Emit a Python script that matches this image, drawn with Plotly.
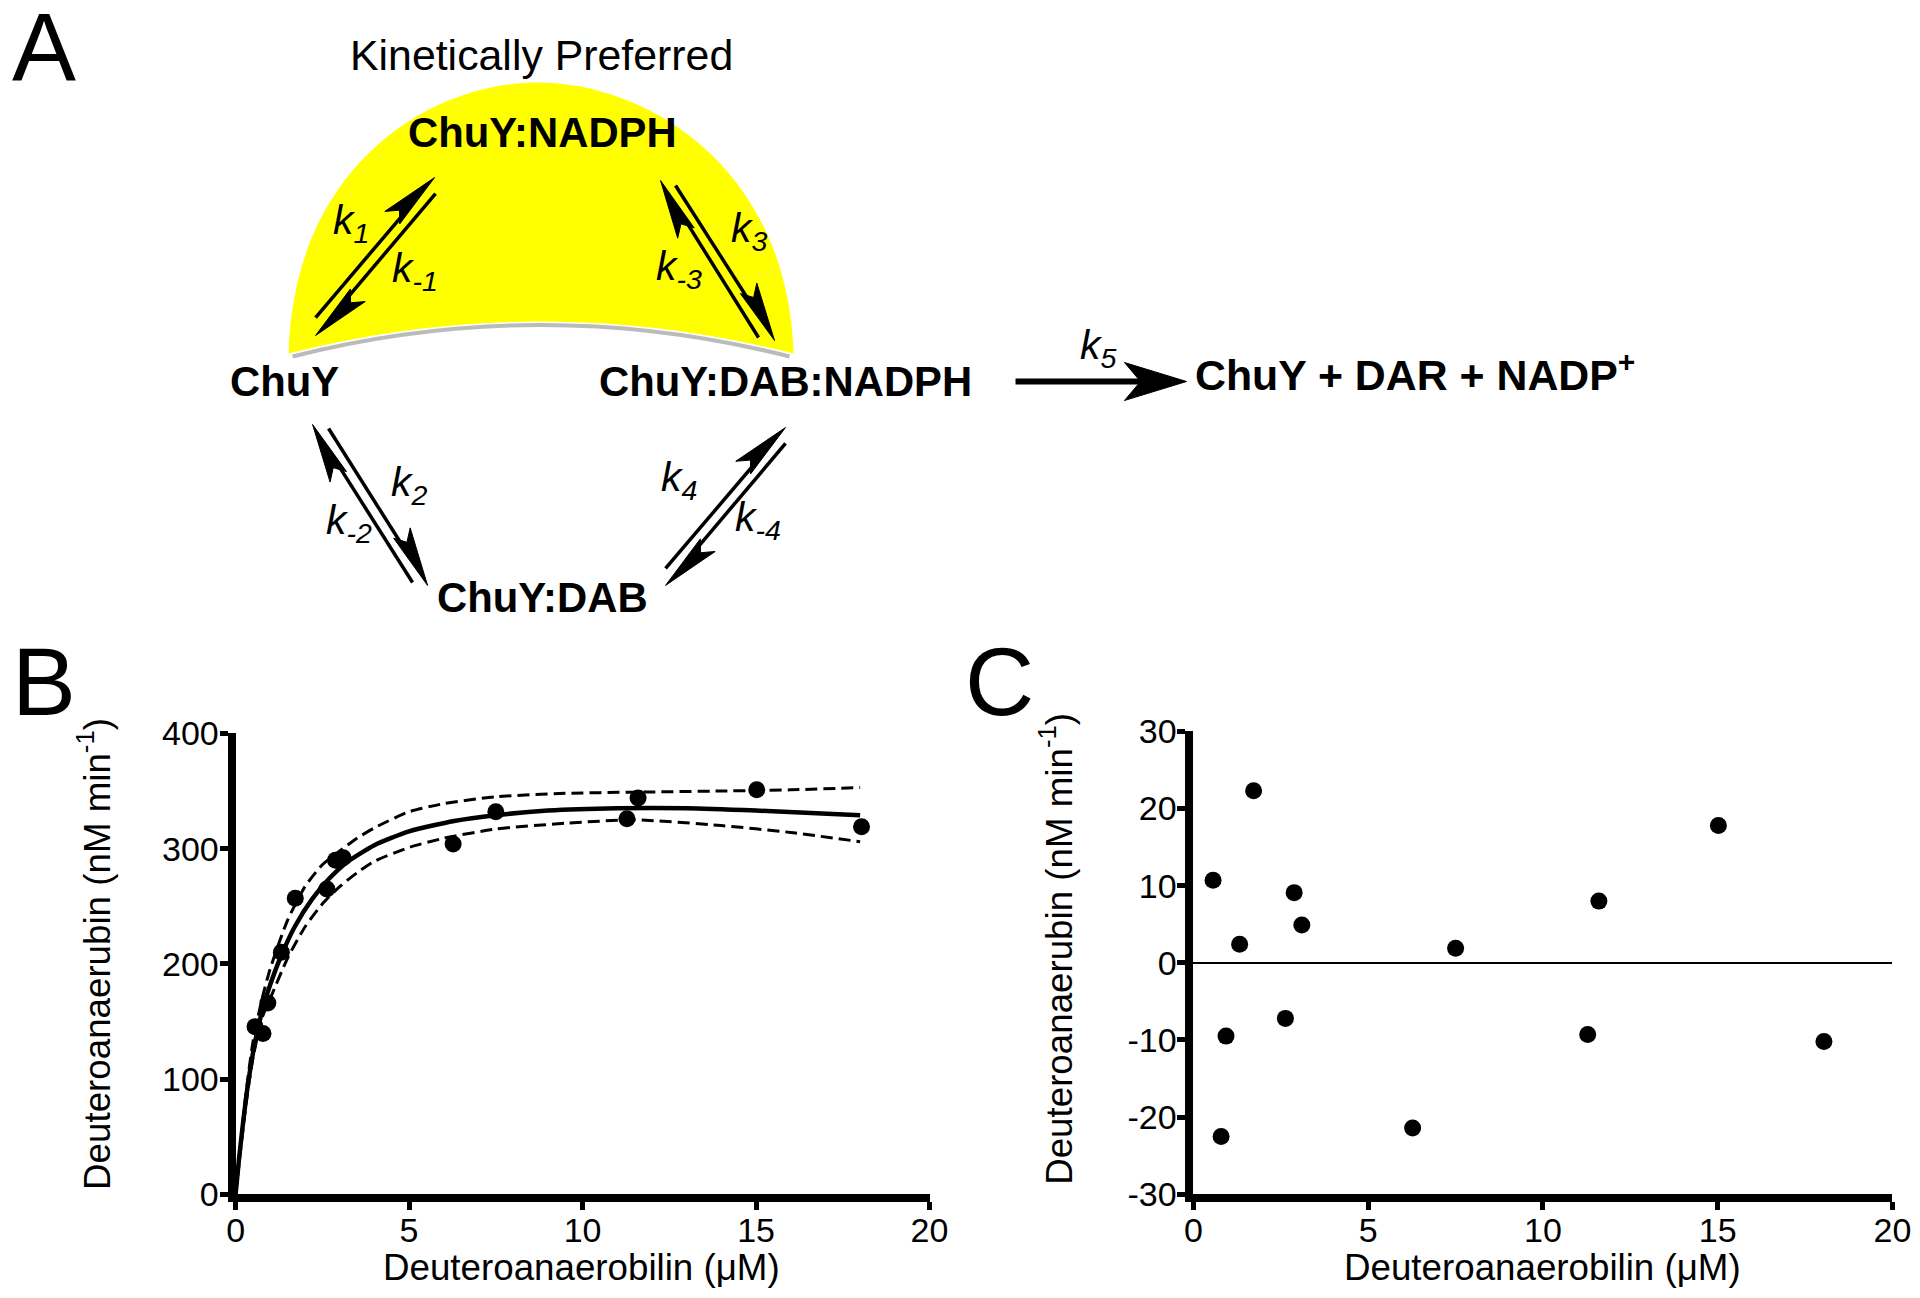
import plotly.graph_objects as go
import math

# ---------------- data ----------------
dab_conc = [0.56, 0.79, 0.93, 1.32, 1.72, 2.63, 2.88, 3.10, 6.27, 7.50, 11.28, 11.60, 15.02, 18.04]
rate_obs = [145.5, 139.5, 166, 210, 257, 265, 290, 292, 304, 332, 326, 344, 351, 319]
residuals = [10.7, -22.5, -9.5, 2.4, 22.3, -7.2, 9.1, 4.9, -21.4, 1.9, -9.3, 8.0, 17.8, -10.2]

fit_x = [0, 0.1, 0.2, 0.35, 0.56, 0.8, 1.0, 1.3, 1.7, 2.2, 2.7, 3.2, 4.0, 5.0, 6.3, 7.5, 9.0, 11.0, 13.0, 15.0, 18.0]
fit_y = [0, 31, 58, 94, 132, 163, 182, 206, 232, 256, 274, 288, 303, 315, 324, 329, 333, 335, 335, 333, 329]

band_x = [0, 0.3, 0.5, 0.75, 1.0, 1.5, 2.0, 2.5, 3.0, 3.5, 4.0, 5.0, 6.0, 7.5, 9.5, 11.5, 14.0, 16.0, 18.0]
band_upper = [0, 88, 132, 168, 196, 238, 267, 286, 298, 309, 318, 332, 339, 345, 348, 349, 350, 351, 353]
band_lower = [0, 78, 118, 152, 170, 205, 232, 252, 267, 279, 289, 301, 309, 317, 322, 325, 320, 314, 306]

x_ticks = [0, 5, 10, 15, 20]
b_y_ticks = [0, 100, 200, 300, 400]
c_y_ticks = [-30, -20, -10, 0, 10, 20, 30]
c_y_ticktext = ["-30", "-20", "-10", "0", "10", "20", "30"]

x_title = "Deuteroanaerobilin (μM)"
y_title = "Deuteroanaerubin (nM min<sup>-1</sup>)"

# ---------------- helpers ----------------
W, H = 1920, 1298
FONT = "Arial, Liberation Sans, Helvetica, sans-serif"
# calibration of the rendered page (measured offset / scale)
SX, OX = 0.9855, 8.4
SY, OY = 0.971, 18.4
FS = 1.02


def X(p):
    return ((p - OX) / SX) / W


def Y(p):
    return 1 - ((p - OY) / SY) / H


fig = go.Figure()

line_dash = "12px,6px"
fig.add_trace(go.Scatter(x=band_x, y=band_upper, mode="lines", xaxis="x", yaxis="y",
                         line=dict(color="black", width=3, dash=line_dash, shape="spline", smoothing=0.6),
                         showlegend=False, hoverinfo="skip"))
fig.add_trace(go.Scatter(x=band_x, y=band_lower, mode="lines", xaxis="x", yaxis="y",
                         line=dict(color="black", width=3, dash=line_dash, shape="spline", smoothing=0.6),
                         showlegend=False, hoverinfo="skip"))
fig.add_trace(go.Scatter(x=fit_x, y=fit_y, mode="lines", xaxis="x", yaxis="y",
                         line=dict(color="black", width=4.5, shape="spline", smoothing=0.6),
                         showlegend=False, hoverinfo="skip"))
fig.add_trace(go.Scatter(x=dab_conc, y=rate_obs, mode="markers", xaxis="x", yaxis="y",
                         marker=dict(color="black", size=17), showlegend=False, cliponaxis=False))
fig.add_trace(go.Scatter(x=dab_conc, y=residuals, mode="markers", xaxis="x2", yaxis="y2",
                         marker=dict(color="black", size=17), showlegend=False, cliponaxis=False))

axis_common = dict(showline=True, linecolor="black", linewidth=8, ticks="outside", ticklen=8,
                   tickwidth=5, tickcolor="black", showgrid=False,
                   tickfont=dict(family=FONT, size=34, color="black"), fixedrange=True)

fig.update_layout(
    width=W, height=H, margin=dict(l=0, r=0, t=0, b=0),
    paper_bgcolor="white", plot_bgcolor="rgba(0,0,0,0)",
    font=dict(family=FONT, color="black"),
    xaxis=dict(domain=[X(235), X(929)], range=[0, 20], anchor="y", tickvals=x_ticks,
               zeroline=False, ticklabelstandoff=-9, **axis_common),
    yaxis=dict(domain=[Y(1194), Y(733)], range=[0, 400], anchor="x", tickvals=b_y_ticks,
               zeroline=False, ticklabelstandoff=-6, **axis_common),
    xaxis2=dict(domain=[X(1193), X(1892)], range=[0, 20], anchor="y2", tickvals=x_ticks,
                zeroline=False, ticklabelstandoff=-9, **axis_common),
    yaxis2=dict(domain=[Y(1194), Y(731)], range=[-30, 30], anchor="x2", tickvals=c_y_ticks,
                ticktext=c_y_ticktext, zeroline=True, zerolinecolor="black", zerolinewidth=2,
                ticklabelstandoff=-6, **axis_common),
)

annotations = []


def txt(x, y, s, size, bold=False, angle=0, xanchor="center"):
    if bold:
        s = "<b>" + s + "</b>"
    annotations.append(dict(x=X(x), y=Y(y), xref="paper", yref="paper", text=s, showarrow=False,
                            xanchor=xanchor, yanchor="middle", textangle=angle,
                            font=dict(family=FONT, size=size * FS, color="black")))


# panel letters
txt(43, 46, "A", 94)
txt(43, 681, "B", 94)
txt(999, 681, "C", 94)

# axis titles
txt(581, 1267, x_title, 36)
txt(1542, 1267, x_title, 36)
txt(94, 954, y_title, 36, angle=-90)
txt(1056, 949, y_title, 36, angle=-90)

# scheme text
txt(541, 54, "Kinetically Preferred", 42)
txt(542, 132, "ChuY:NADPH", 41, bold=True)
txt(284, 381, "ChuY", 41, bold=True)
txt(785, 381, "ChuY:DAB:NADPH", 41, bold=True)
txt(542, 597, "ChuY:DAB", 41, bold=True)
txt(1193, 372, "ChuY + DAR + NADP<sup>+</sup>", 42, bold=True, xanchor="left")

k_labels = [
    ("1", 350, 222), ("-1", 414, 270), ("3", 748, 230), ("-3", 678, 268),
    ("2", 408, 485), ("-2", 348, 523), ("4", 678, 480), ("-4", 757, 520), ("5", 1097, 347),
]
for sub, kx, ky in k_labels:
    txt(kx, ky, "<i>k</i><sub><i>" + sub + "</i></sub>", 40)

fig.update_layout(annotations=annotations)

# ---------------- scheme shapes ----------------
shapes = []


def P(pts, close=True):
    s = "M " + " L ".join("%.5f,%.5f" % (X(a), Y(b)) for a, b in pts)
    return s + (" Z" if close else "")


# shadow under dome
shapes.append(dict(type="path", xref="paper", yref="paper",
                   path="M %.5f,%.5f Q %.5f,%.5f %.5f,%.5f" % (X(292), Y(356), X(540), Y(293), X(789), Y(356)),
                   line=dict(color="rgba(120,120,120,0.5)", width=4)))
# yellow dome
dome = ("M %.5f,%.5f C %.5f,%.5f %.5f,%.5f %.5f,%.5f C %.5f,%.5f %.5f,%.5f %.5f,%.5f Q %.5f,%.5f %.5f,%.5f Z" % (
    X(288), Y(353), X(293), Y(165), X(430), Y(82), X(537), Y(82),
    X(645), Y(82), X(787), Y(165), X(793), Y(353),
    X(540), Y(289), X(288), Y(353)))
shapes.append(dict(type="path", xref="paper", yref="paper", path=dome,
                   fillcolor="#FFFF00", line=dict(width=0)))

arrow_pairs = [
    (((315, 317), (434, 177)), ((435, 193), (315, 335))),
    (((758, 337), (660, 180)), ((675, 185), (774, 340))),
    (((412, 582), (312, 424)), ((328, 428), (427, 585))),
    (((665, 568), (785, 427)), ((785, 443), (665, 585))),
]


def harpoon(tail, tip, other_mid, L=58, w=16):
    dx, dy = tip[0] - tail[0], tip[1] - tail[1]
    n = math.hypot(dx, dy)
    d = (dx / n, dy / n)
    perp = (-d[1], d[0])
    mid = ((tail[0] + tip[0]) / 2, (tail[1] + tip[1]) / 2)
    v = (mid[0] - other_mid[0], mid[1] - other_mid[1])
    if perp[0] * v[0] + perp[1] * v[1] < 0:
        perp = (-perp[0], -perp[1])
    end = (tip[0] - 0.6 * L * d[0], tip[1] - 0.6 * L * d[1])
    shapes.append(dict(type="line", xref="paper", yref="paper", x0=X(tail[0]), y0=Y(tail[1]),
                       x1=X(end[0]), y1=Y(end[1]), line=dict(color="black", width=3.5)))
    barb = (tip[0] - L * d[0] + w * perp[0], tip[1] - L * d[1] + w * perp[1])
    notch = (tip[0] - 0.82 * L * d[0] + 0.35 * w * perp[0], tip[1] - 0.82 * L * d[1] + 0.35 * w * perp[1])
    inner = (tip[0] - L * d[0] - 3.5 * perp[0], tip[1] - L * d[1] - 3.5 * perp[1])
    shapes.append(dict(type="path", xref="paper", yref="paper", path=P([tip, barb, notch, inner]),
                       fillcolor="black", line=dict(color="black", width=1)))


for a, b in arrow_pairs:
    ma = ((a[0][0] + a[1][0]) / 2, (a[0][1] + a[1][1]) / 2)
    mb = ((b[0][0] + b[1][0]) / 2, (b[0][1] + b[1][1]) / 2)
    harpoon(a[0], a[1], mb)
    harpoon(b[0], b[1], ma)

# k5 arrow
shapes.append(dict(type="line", xref="paper", yref="paper", x0=X(1015), y0=Y(381), x1=X(1145), y1=Y(381),
                   line=dict(color="black", width=6)))
shapes.append(dict(type="path", xref="paper", yref="paper",
                   path=P([(1186, 381), (1124, 362), (1140, 381), (1124, 400)]),
                   fillcolor="black", line=dict(color="black", width=1)))

fig.update_layout(shapes=shapes)

fig.write_html("out.html", include_plotlyjs=True, config={"displayModeBar": False},
               post_script="document.body.style.margin='0';document.body.style.padding='0';document.body.style.overflow='hidden';")
